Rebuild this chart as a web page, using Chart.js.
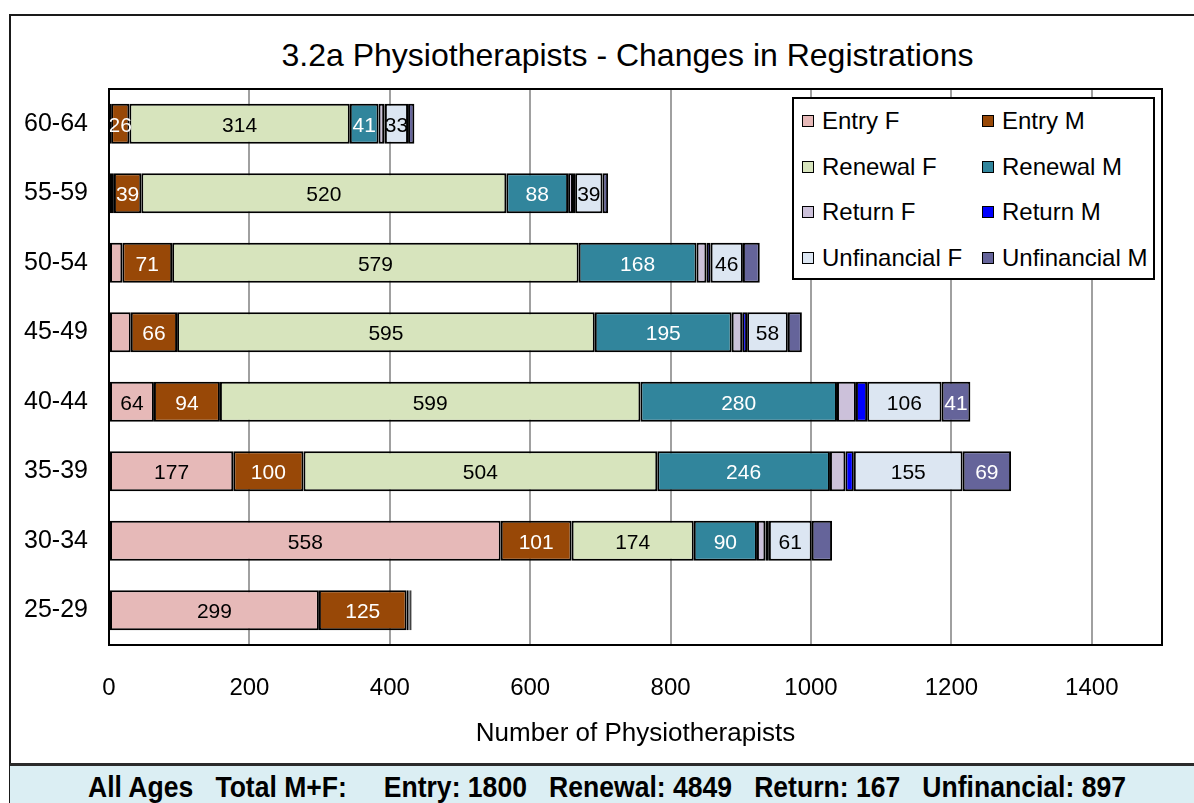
<!DOCTYPE html>
<html>
<head>
<meta charset="utf-8">
<script src="https://cdn.jsdelivr.net/npm/chart.js@4.4.1/dist/chart.umd.min.js"></script>
<style>
html,body{margin:0;padding:0;background:#fff;width:1194px;height:803px;overflow:hidden;font-family:"Liberation Sans",Arial,sans-serif;}
#frame{position:absolute;left:9px;top:14px;width:1300px;height:900px;border-left:2px solid #1a1a1a;border-top:2px solid #1a1a1a;box-sizing:border-box;}
#wrap{position:absolute;left:0;top:0;width:1194px;height:764px;}
#c{display:block;width:1194px;height:764px;}
#title{position:absolute;top:37px;left:0;width:1255px;text-align:center;font-size:32px;line-height:36px;color:#000;white-space:pre;}
#legend{position:absolute;left:792px;top:97px;width:363px;height:183px;border:2px solid #000;background:#fff;box-sizing:border-box;}
.li{position:absolute;font-size:24px;line-height:28px;color:#000;white-space:nowrap;}
.li i{position:absolute;left:-20px;top:8px;width:10px;height:10px;border:1.5px solid #000;}
#strip{position:absolute;left:10px;top:763px;width:1200px;height:45px;background:#DBEEF3;border-top:3px solid #2b2b2b;box-sizing:border-box;}
#striptext{position:absolute;left:0;top:769px;width:1214px;text-align:center;font-family:"Liberation Sans Narrow","Arial Narrow","Liberation Sans",sans-serif;font-weight:bold;font-size:30px;line-height:36px;white-space:pre;color:#000;transform:scaleX(0.885);transform-origin:607px 0;}
</style>
</head>
<body>
<div id="frame"></div>
<div id="title">3.2a Physiotherapists - Changes in Registrations</div>
<div id="wrap"><canvas id="c" width="1194" height="764"></canvas></div>
<div id="legend"></div>
<div id="strip"></div>
<div id="striptext"></div>
<script>
// ---- data ----
const ageGroups = ['60-64','55-59','50-54','45-49','40-44','35-39','30-34','25-29'];
const entryF    = [3, 7, 19, 31, 64, 177, 558, 299];
const entryM    = [26, 39, 71, 66, 94, 100, 101, 125];
const renewalF  = [314, 520, 579, 595, 599, 504, 174, 2];
const renewalM  = [41, 88, 168, 195, 280, 246, 90, 1];
const returnF   = [8, 7, 14, 15, 27, 22, 12, 1];
const returnM   = [1, 3, 6, 7, 16, 12, 5, 0];
const unfinF    = [33, 39, 46, 58, 106, 155, 61, 2];
const unfinM    = [9, 8, 24, 20, 41, 69, 29, 1];
const seriesNames = ['Entry F','Entry M','Renewal F','Renewal M','Return F','Return M','Unfinancial F','Unfinancial M'];
const xTicks = [0, 200, 400, 600, 800, 1000, 1200, 1400];
const allAgesTotals = {Entry: 1800, Renewal: 4849, Return: 167, Unfinancial: 897};
const unlabelledSeries = ['Return F','Return M'];
const unlabelledSegments = ['Entry F:45-49','Unfinancial M:30-34'];
const labelMin = 26;

// ---- styles ----
const colors = ['#E6B9B8','#984807','#D7E4BD','#31859C','#CCC1DA','#0000FF','#DCE6F2','#65649A'];
const labelColors = ['#000','#fff','#000','#fff','#000','#fff','#000','#fff'];
const seriesData = [entryF, entryM, renewalF, renewalM, returnF, returnM, unfinF, unfinM];

const datasets = seriesNames.map((n,i)=>({
  label:n, data:seriesData[i], backgroundColor:colors[i],
  borderColor:'#000', borderWidth:2, borderSkipped:false,
  barPercentage:0.575, categoryPercentage:1
}));

const segLabels = {
  id:'segLabels',
  afterDatasetsDraw(chart){
    const ctx = chart.ctx;
    ctx.save();
    ctx.font = '21px "Liberation Sans", Arial, sans-serif';
    ctx.textAlign = 'center';
    ctx.textBaseline = 'middle';
    chart.data.datasets.forEach((ds,i)=>{
      if (unlabelledSeries.includes(ds.label)) return;
      const meta = chart.getDatasetMeta(i);
      meta.data.forEach((bar,j)=>{
        const v = ds.data[j];
        if (v < labelMin) return;
        if (unlabelledSegments.includes(ds.label+':'+chart.data.labels[j])) return;
        ctx.fillStyle = labelColors[i];
        ctx.fillText(String(v), (bar.x+bar.base)/2, bar.y+2);
      });
    });
    ctx.restore();
  }
};
const plotFrame = {
  id:'plotFrame',
  afterDraw(chart){
    const a = chart.chartArea, ctx = chart.ctx;
    ctx.save();
    ctx.strokeStyle = '#000'; ctx.lineWidth = 2;
    ctx.strokeRect(a.left, a.top, a.right-a.left, a.bottom-a.top);
    ctx.restore();
  }
};

new Chart(document.getElementById('c'), {
  type:'bar',
  data:{labels:ageGroups, datasets},
  options:{
    indexAxis:'y', responsive:false, animation:false, maintainAspectRatio:false,
    devicePixelRatio:1,
    layout:{padding:{left:10, top:89, right:32, bottom:0}},
    plugins:{legend:{display:false}, tooltip:{enabled:false}, title:{display:false}},
    scales:{
      x:{
        stacked:true, min:0, max:1500,
        afterBuildTicks(s){ s.ticks = xTicks.map(v=>({value:v})).concat([{value:1500}]); },
        afterFit(s){ s.height = 119; },
        grid:{color:'#A0A0A0', lineWidth:2, drawTicks:false},
        border:{display:true, color:'#000', width:2},
        ticks:{padding:29, color:'#000', font:{size:24, family:'"Liberation Sans", Arial'},
          callback(v){ return xTicks.includes(v) ? String(v) : ''; }, maxRotation:0, autoSkip:false},
        title:{display:true, text:'Number of Physiotherapists', color:'#000',
          font:{size:26, family:'"Liberation Sans", Arial'}, padding:{top:0,bottom:15}}
      },
      y:{
        stacked:true,
        afterFit(s){ s.width = 99; },
        grid:{display:false, drawTicks:false},
        border:{display:true, color:'#000', width:2},
        ticks:{padding:21, color:'#000', font:{size:25, family:'"Liberation Sans", Arial'}}
      }
    }
  },
  plugins:[segLabels, plotFrame]
});

// legend (HTML) built from series names / colours
const lg = document.getElementById('legend');
seriesNames.forEach((n,i)=>{
  const col = i%2, row = Math.floor(i/2);
  const d = document.createElement('div');
  d.className = 'li';
  d.style.left = (col===0 ? 28 : 208) + 'px';
  d.style.top = (8 + row*45.5) + 'px';
  d.innerHTML = '<i style="background:'+colors[i]+'"></i>' + n;
  lg.appendChild(d);
});
document.getElementById('striptext').textContent =
  'All Ages   Total M+F:     Entry: ' + allAgesTotals.Entry + '   Renewal: ' + allAgesTotals.Renewal +
  '   Return: ' + allAgesTotals.Return + '   Unfinancial: ' + allAgesTotals.Unfinancial;
</script>
</body>
</html>
